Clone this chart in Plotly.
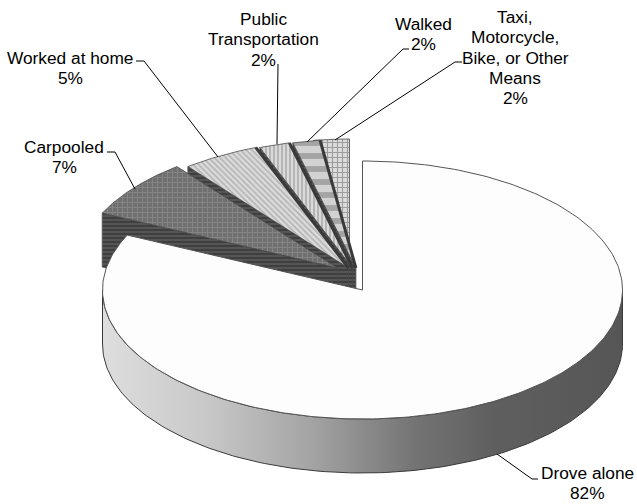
import numpy as np
import plotly.graph_objects as go

categories = ["Drove alone", "Carpooled", "Worked at home", "Public Transportation", "Walked",
              "Taxi, Motorcycle, Bike, or Other Means"]
values = [82.0, 7.4, 4.8, 1.9, 1.7, 2.2]
percent_labels = ["82%", "7%", "5%", "2%", "2%", "2%"]
label_lines = [["Drove alone"], ["Carpooled"], ["Worked at home"], ["Public", "Transportation"],
               ["Walked"], ["Taxi,", "Motorcycle,", "Bike, or Other", "Means"]]

# layout constants (pixels)
W, H = 637, 504
CX, CY, RX, RY, DEPTH = 362.5, 290, 260, 129, 54
SHIFT = [(0, 0), (-25, -22), (-14, -22), (-10, -22), (-6.6, -22), (-13, -22)]
LABEL_POS = [(587, 473), (64, 147), (70, 58), (263, 19), (423, 24), (515, 17)]
LEADERS = [
    [(538, 479), (532, 479), (497, 454)],
    [(107, 152), (115, 152), (135, 189)],
    [(136, 61), (144, 61), (218, 157)],
    [(278, 64), (277, 144)],
    [(409, 49), (403, 49), (307, 142)],
    [(462, 62), (455, 62), (335, 140)],
]
PATTERNS = [
    None,
    dict(shape="+", bgcolor="#707070", fgcolor="#989898", size=5, solidity=0.35),
    dict(shape="\\", bgcolor="#dcdcdc", fgcolor="#8a8a8a", size=4, solidity=0.4),
    dict(shape="|", bgcolor="#dadada", fgcolor="#707070", size=4, solidity=0.35),
    dict(shape="-", bgcolor="#a4a4a4", fgcolor="#ffffff", size=13, solidity=0.55),
    dict(shape="+", bgcolor="#dcdcdc", fgcolor="#5e5e5e", size=5, solidity=0.4),
]
FACE_PATTERN = dict(shape="-", bgcolor="#555555", fgcolor="#222222", size=4, solidity=0.45)
WALL_SCALE = [[0, "#dedede"], [0.2, "#c8c8c8"], [0.4, "#a4a4a4"], [0.6, "#747474"], [0.75, "#5f5f5f"], [1, "#565656"]]

edges = np.concatenate([[0], np.cumsum(values)]) / np.sum(values) * 2 * np.pi


def arc(a0, a1, cx, cy, n=80):
    t = np.linspace(a0, a1, n)
    return cx + RX * np.sin(t), cy - RY * np.cos(t)


fig = go.Figure()


def poly(x, y, **kw):
    line = kw.pop("line", dict(color="#4a4a4a", width=0.8))
    fig.add_trace(go.Scatter(x=list(x), y=list(y), mode="lines", fill="toself", line=line,
                             hoverinfo="skip", showlegend=False, **kw))


# small exploded slices, back to front
for i in range(len(values) - 1, 0, -1):
    cx, cy = CX + SHIFT[i][0], CY + SHIFT[i][1]
    a0, a1 = edges[i], edges[i + 1]
    ex, ey = cx + RX * np.sin(a0), cy - RY * np.cos(a0)
    poly([ex, cx, cx, ex, ex], [ey, cy, cy + DEPTH, ey + DEPTH, ey],
         fillcolor="#4a4a4a", fillpattern=FACE_PATTERN)
    ax, ay = arc(a0, a1, cx, cy)
    poly(np.r_[cx, ax, cx], np.r_[cy, ay, cy], fillcolor=PATTERNS[i]["bgcolor"], fillpattern=PATTERNS[i])

# dark bands where neighbouring small slices meet
for i in (2, 3, 4):
    cx, cy = CX + SHIFT[i][0], CY + SHIFT[i][1]
    a1 = edges[i + 1]
    fig.add_trace(go.Scatter(x=[cx + RX * np.sin(a1), cx], y=[cy - RY * np.cos(a1), cy], mode="lines",
                             line=dict(color="#3a3a3a", width=3), hoverinfo="skip", showlegend=False))

# main slice: wall then top
a0, a1 = edges[0], edges[1]
tx, ty = arc(np.pi / 2, 3 * np.pi / 2, CX, CY, 160)
poly(np.r_[tx, tx[::-1], tx[0]], np.r_[ty, ty[::-1] + DEPTH, ty[0]],
     fillgradient=dict(type="horizontal", colorscale=WALL_SCALE, start=CX - RX, stop=CX + RX),
     line=dict(color="#3a3a3a", width=1))
ax, ay = arc(a0, a1, CX, CY, 300)
poly(np.r_[CX, ax, CX], np.r_[CY, ay, CY], fillcolor="#fdfdfd", line=dict(color="#555555", width=1))

# leader lines
for pts in LEADERS:
    fig.add_trace(go.Scatter(x=[p[0] for p in pts], y=[p[1] for p in pts], mode="lines",
                             line=dict(color="#000000", width=1), hoverinfo="skip", showlegend=False))

# labels
LH = 20.3
for lines, pct, (lx, ly) in zip(label_lines, percent_labels, LABEL_POS):
    for k, s in enumerate(lines + [pct]):
        fig.add_annotation(x=lx, y=ly + k * LH, text=s, showarrow=False, xanchor="center", yanchor="middle",
                           font=dict(family="Liberation Sans, Arial", size=17.3, color="#000000"))

fig.update_layout(
    width=W, height=H, margin=dict(l=0, r=0, t=0, b=0), paper_bgcolor="white", plot_bgcolor="white",
    xaxis=dict(range=[0, W], visible=False, fixedrange=True),
    yaxis=dict(range=[H, 0], visible=False, fixedrange=True),
    showlegend=False,
)
fig.write_html("out.html", config=dict(displayModeBar=False),
               post_script="document.body.style.margin='0';document.body.style.overflow='hidden';")
